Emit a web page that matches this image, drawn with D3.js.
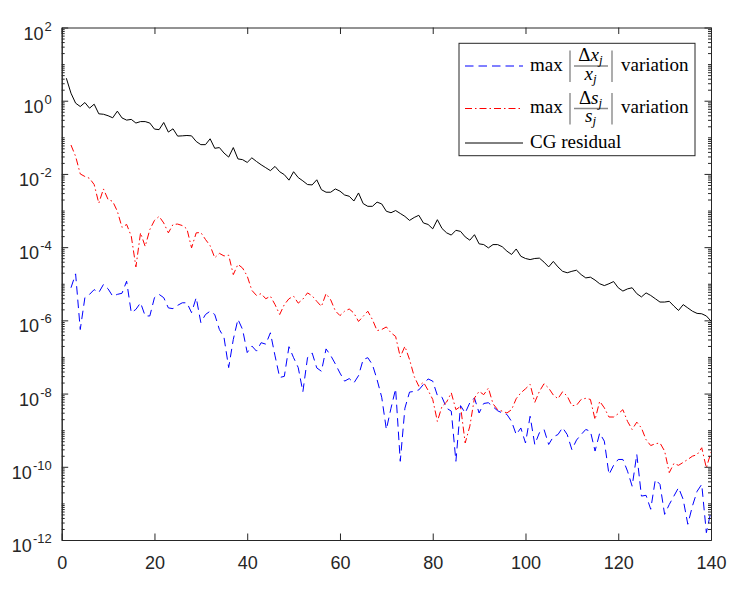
<!DOCTYPE html>
<html><head><meta charset="utf-8">
<script src="https://cdn.jsdelivr.net/npm/d3@7"></script>
<style>body{margin:0;background:#fff} svg{display:block}</style>
</head><body>
<svg id="c" width="746" height="590"></svg>
<script>
// ---------------- DATA ----------------
const xTicks = [0, 20, 40, 60, 80, 100, 120, 140];
const yTickExponents = [2, 0, -2, -4, -6, -8, -10, -12];
const xDomain = [0, 140];
const yDomain = [1e-12, 1e2];

// CG residual, iterations 1..140 (log10 of value)
const cgStartIter = 1;
const cgResidualLog10 = [
  0.615,0.206,-0.067,-0.159,-0.05,-0.204,-0.095,-0.358,-0.37,-0.41,
  -0.467,-0.285,-0.47,-0.53,-0.51,-0.61,-0.57,-0.57,-0.61,-0.775,
  -0.79,-0.595,-0.857,-0.767,-0.967,-0.96,-0.95,-0.96,-1.113,-1.2,
  -1.2,-1.04,-1.3,-1.28,-1.43,-1.54,-1.28,-1.59,-1.61,-1.686,
  -1.56,-1.66,-1.75,-1.83,-1.91,-1.795,-1.94,-2.02,-2.17,-1.94,
  -2.1,-2.19,-2.29,-2.3,-2.16,-2.43,-2.5,-2.5,-2.41,-2.47,
  -2.575,-2.61,-2.74,-2.52,-2.81,-2.885,-2.885,-2.77,-2.82,-3.02,
  -3.06,-3.0,-3.08,-3.16,-3.27,-3.19,-3.13,-3.34,-3.38,-3.5,
  -3.25,-3.49,-3.61,-3.67,-3.54,-3.57,-3.72,-3.81,-3.66,-3.91,
  -3.93,-4.02,-3.93,-3.93,-3.99,-4.11,-4.2,-4.05,-4.25,-4.31,
  -4.34,-4.31,-4.30,-4.41,-4.54,-4.39,-4.54,-4.66,-4.7,-4.66,
  -4.63,-4.75,-4.84,-4.82,-4.9,-5.0,-5.05,-5.0,-4.94,-5.11,
  -5.2,-5.14,-5.11,-5.27,-5.36,-5.25,-5.32,-5.41,-5.5,-5.5,
  -5.48,-5.61,-5.73,-5.57,-5.66,-5.75,-5.81,-5.82,-5.88,-6.02
];

// max |Δs_j / s_j| variation, iterations 2..140 (log10 of value)
const varStartIter = 2;
const dsVariationLog10 = [
  -1.21,-1.52,-2.0,-2.07,-2.12,-2.29,-2.8,-2.41,-2.70,-2.75,
  -3.02,-3.46,-3.38,-3.70,-4.54,-3.61,-3.98,-3.52,-3.27,-3.16,
  -3.34,-3.61,-3.38,-3.37,-3.41,-3.5,-4.02,-3.61,-3.60,-3.79,
  -3.96,-4.29,-4.17,-4.24,-4.22,-4.75,-4.47,-4.57,-4.79,-5.18,
  -5.32,-5.27,-5.41,-5.34,-5.57,-5.84,-5.57,-5.41,-5.34,-5.53,
  -5.42,-5.25,-5.33,-5.48,-5.62,-5.27,-5.44,-5.74,-5.87,-5.75,
  -5.69,-5.8,-6.03,-5.89,-5.75,-5.98,-6.28,-6.25,-6.18,-6.34,
  -6.44,-7.0,-6.71,-7.07,-7.53,-7.8,-7.69,-7.91,-8.16,-8.76,
  -8.35,-8.23,-7.98,-8.44,-8.35,-9.35,-8.89,-8.12,-7.94,-8.03,
  -7.85,-8.28,-8.44,-8.48,-8.53,-8.44,-8.14,-7.98,-7.87,-7.75,
  -8.24,-7.94,-7.73,-7.85,-8.04,-8.14,-7.95,-8.07,-8.33,-8.32,
  -8.16,-8.13,-8.16,-8.71,-8.21,-8.39,-8.64,-8.64,-8.55,-8.44,
  -8.76,-8.98,-8.78,-8.94,-9.26,-9.42,-9.37,-9.35,-9.57,-10.16,
  -9.91,-9.96,-9.88,-9.8,-9.71,-9.67,-9.48,-10.03,-9.6
];

// max |Δx_j / x_j| variation, iterations 2..140 (log10 of value)
const dxVariationLog10 = [
  -5.11,-4.73,-6.25,-5.38,-5.29,-5.16,-5.24,-5.02,-5.14,-5.34,
  -5.29,-5.26,-4.93,-5.79,-5.70,-5.52,-5.88,-5.88,-5.38,-5.29,
  -5.38,-5.66,-5.68,-5.59,-5.52,-5.52,-5.79,-5.38,-6.06,-5.84,
  -5.75,-5.84,-6.25,-6.47,-7.29,-6.52,-5.97,-6.25,-6.88,-6.70,
  -6.84,-6.61,-6.65,-6.34,-6.97,-7.56,-7.53,-6.72,-7.02,-7.29,
  -7.95,-7.02,-6.89,-7.3,-7.39,-6.78,-6.96,-7.19,-7.44,-7.66,
  -7.59,-7.71,-7.51,-7.07,-7.02,-7.21,-7.62,-8.1,-8.98,-8.4,
  -7.87,-9.85,-8.4,-7.96,-7.94,-7.9,-7.75,-7.6,-7.66,-8.05,
  -8.1,-8.4,-8.48,-9.85,-8.33,-8.53,-8.25,-8.12,-8.53,-8.27,
  -8.25,-8.36,-8.47,-8.53,-8.57,-8.76,-9.12,-8.94,-9.35,-8.62,
  -9.39,-9.07,-8.98,-9.39,-9.18,-9.12,-8.93,-9.12,-9.53,-9.27,
  -9.12,-8.98,-9.03,-9.57,-9.08,-9.3,-10.21,-9.96,-9.8,-9.8,
  -10.12,-10.53,-9.66,-10.8,-10.78,-11.16,-10.35,-10.48,-11.3,-11.03,
  -10.8,-10.57,-10.89,-11.57,-11.07,-10.67,-10.48,-11.8,-11.21
];

const legendVar = ["x", "s"];
const legendWord = "variation";
const legendCG = "CG residual";

// ---------------- DRAW ----------------
const svg = d3.select("#c");
const axisColor = "#262626";
const L = 61.7, R = 711, T = 27.5, B = 540;
const x = d3.scaleLinear().domain(xDomain).range([L, R]);
const y = d3.scaleLog().domain(yDomain).range([B, T]);

const toPoints = (arr, start) => arr.map((v, i) => ({ it: start + i, val: Math.pow(10, v) }));
const line = d3.line().x(d => x(d.it)).y(d => y(d.val));

const series = [
  { data: toPoints(dxVariationLog10, varStartIter), color: "#0000ff", dash: "8.5,5" },
  { data: toPoints(dsVariationLog10, varStartIter), color: "#ff0000", dash: "7,3,1.5,3" },
  { data: toPoints(cgResidualLog10, cgStartIter), color: "#000000", dash: null }
];

const gLines = svg.append("g");
series.forEach(s => {
  gLines.append("path").datum(s.data)
    .attr("d", line).attr("fill", "none")
    .attr("stroke", s.color).attr("stroke-width", 1)
    .attr("stroke-dasharray", s.dash)
    .attr("stroke-linejoin", "round");
});

// minor tick values
const minorVals = [];
for (let e = -12; e < 2; e++) for (let k = 2; k <= 10; k++) {
  const v = k * Math.pow(10, e);
  if (!(k === 10 && (e + 1) % 2 === 0)) minorVals.push(v);
}
const majorVals = yTickExponents.map(e => Math.pow(10, e));

function styleAxis(g) {
  g.selectAll("path").attr("stroke", axisColor).attr("stroke-width", 1);
  g.selectAll("line").attr("stroke", axisColor).attr("stroke-width", 1);
  g.selectAll("text").attr("fill", axisColor)
    .style("font-family", "'Liberation Sans', Arial, Helvetica, sans-serif")
    .style("font-size", "18px");
}

// bottom
svg.append("g").attr("transform", `translate(0,${B})`)
  .call(d3.axisBottom(x).tickValues(xTicks).tickSize(-6.5).tickSizeOuter(0).tickPadding(16.5).tickFormat(d3.format("d")))
  .call(styleAxis);
// top
svg.append("g").attr("transform", `translate(0,${T})`)
  .call(d3.axisTop(x).tickValues(xTicks).tickSize(-6.5).tickSizeOuter(0).tickFormat(""))
  .call(styleAxis);
// left major/minor
svg.append("g").attr("transform", `translate(${L},0)`)
  .call(d3.axisLeft(y).tickValues(majorVals).tickSize(-6.5).tickSizeOuter(0).tickFormat(""))
  .call(styleAxis);
svg.append("g").attr("transform", `translate(${L},0)`)
  .call(d3.axisLeft(y).tickValues(minorVals).tickSize(-3).tickSizeOuter(0).tickFormat(""))
  .call(styleAxis);
// right major/minor
svg.append("g").attr("transform", `translate(${R},0)`)
  .call(d3.axisRight(y).tickValues(majorVals).tickSize(-6.5).tickSizeOuter(0).tickFormat(""))
  .call(styleAxis);
svg.append("g").attr("transform", `translate(${R},0)`)
  .call(d3.axisRight(y).tickValues(minorVals).tickSize(-3).tickSizeOuter(0).tickFormat(""))
  .call(styleAxis);

// y labels 10^e
const yl = svg.append("g")
  .style("font-family", "'Liberation Sans', Arial, Helvetica, sans-serif")
  .attr("fill", axisColor);
yTickExponents.forEach(e => {
  const t = yl.append("text").attr("x", L - 10).attr("y", y(Math.pow(10, e)) + 12)
    .attr("text-anchor", "end");
  t.append("tspan").style("font-size", "18px").text("10");
  t.append("tspan").style("font-size", "13px").attr("dy", -9).attr("dx", 1)
    .text(e < 0 ? "-" + Math.abs(e) : String(e));
});

// legend
const serif = "'Liberation Serif', 'Times New Roman', serif";
const lg = svg.append("g").style("font-family", serif).attr("fill", "#000");
lg.append("rect").attr("x", 459).attr("y", 43.3).attr("width", 236).attr("height", 112.4)
  .attr("fill", "#fff").attr("stroke", axisColor).attr("stroke-width", 1);

const rows = [66, 108.5, 143];
series.forEach((s, i) => {
  lg.append("line").attr("x1", 465).attr("x2", 523).attr("y1", rows[i]).attr("y2", rows[i])
    .attr("stroke", s.color).attr("stroke-width", 1).attr("stroke-dasharray", s.dash);
});

[0, 1].forEach(i => {
  const cy = rows[i];
  const v = legendVar[i];
  lg.append("text").attr("x", 530).attr("y", cy + 4.5).style("font-size", "19px").text("max");
  // abs bars
  [570, 612].forEach(bx => lg.append("line").attr("x1", bx).attr("x2", bx)
    .attr("y1", cy - 15.5).attr("y2", cy + 16).attr("stroke", "#8a8a8a").attr("stroke-width", 1.4));
  // fraction bar
  lg.append("line").attr("x1", 574).attr("x2", 608).attr("y1", cy).attr("y2", cy)
    .attr("stroke", "#8a8a8a").attr("stroke-width", 1.4);
  const num = lg.append("text").attr("x", 590.5).attr("y", cy - 5).attr("text-anchor", "middle").style("font-size", "19px");
  num.append("tspan").text("Δ");
  num.append("tspan").style("font-style", "italic").text(v);
  num.append("tspan").style("font-style", "italic").style("font-size", "13px").attr("dy", 3).text("j");
  const den = lg.append("text").attr("x", 590.5).attr("y", cy + 13.5).attr("text-anchor", "middle").style("font-size", "19px");
  den.append("tspan").style("font-style", "italic").text(v);
  den.append("tspan").style("font-style", "italic").style("font-size", "13px").attr("dy", 3).text("j");
  lg.append("text").attr("x", 621).attr("y", cy + 4.5).style("font-size", "19px").text(legendWord);
});
lg.append("text").attr("x", 530).attr("y", rows[2] + 4.5).style("font-size", "19px").text(legendCG);
</script>
</body></html>
